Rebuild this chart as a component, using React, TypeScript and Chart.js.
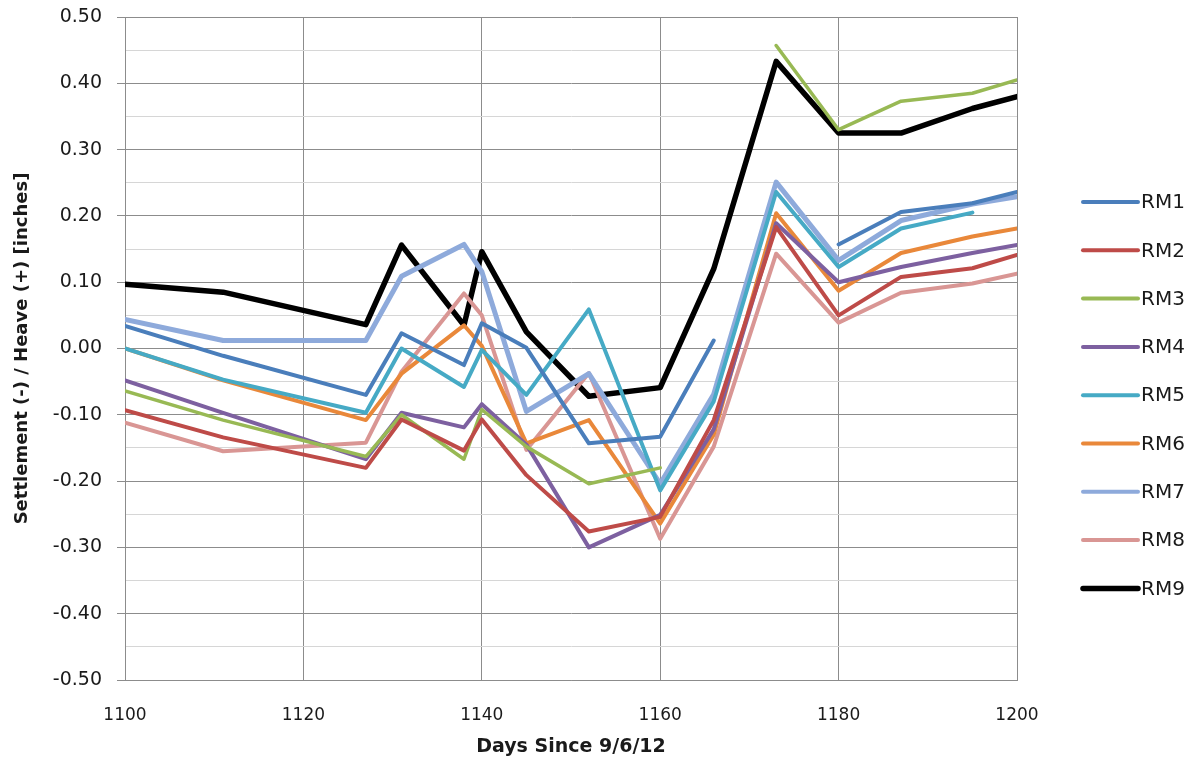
import React, { useEffect, useRef } from "react";
import { Chart, registerables } from "chart.js";

Chart.register(...registerables);

// ---- data ----
const days = [1100, 1111, 1127, 1131, 1138, 1140, 1145, 1152, 1160, 1166, 1173, 1180, 1187, 1195, 1200];

const rm1 = [0.034, -0.011, -0.07, 0.023, -0.025, 0.038, 0.001, -0.143, -0.133, 0.012, null, 0.157, 0.206, 0.219, 0.236];
const rm2 = [-0.093, -0.134, -0.18, -0.107, -0.154, -0.107, -0.191, -0.276, -0.254, -0.108, 0.183, 0.05, 0.108, 0.121, 0.141];
const rm3 = [-0.064, -0.108, -0.163, -0.1, -0.167, -0.092, -0.148, -0.204, -0.18, null, 0.457, 0.33, 0.373, 0.385, 0.405];
const rm4 = [-0.048, -0.097, -0.167, -0.097, -0.119, -0.084, -0.145, -0.3, -0.251, -0.122, 0.189, 0.1, 0.123, 0.144, 0.156];
const rm5 = [0.0, -0.047, -0.097, 0.0, -0.058, -0.002, -0.07, 0.059, -0.214, -0.08, 0.236, 0.123, 0.181, 0.205, null];
const rm6 = [0.0, -0.048, -0.108, -0.038, 0.035, 0.004, -0.143, -0.108, -0.264, -0.13, 0.204, 0.087, 0.144, 0.169, 0.181];
const rm7 = [0.044, 0.012, 0.012, 0.109, 0.157, 0.116, -0.095, -0.038, -0.204, -0.069, 0.251, 0.133, 0.193, 0.218, 0.229];
const rm8 = [-0.112, -0.155, -0.142, -0.035, 0.083, 0.05, -0.153, -0.037, -0.287, -0.148, 0.143, 0.039, 0.084, 0.098, 0.113];
const rm9 = [0.097, 0.085, 0.036, 0.156, 0.035, 0.146, 0.025, -0.072, -0.059, 0.12, 0.433, 0.325, 0.325, 0.362, 0.38];

const seriesNames = ["RM1", "RM2", "RM3", "RM4", "RM5", "RM6", "RM7", "RM8", "RM9"];
const seriesValues = [rm1, rm2, rm3, rm4, rm5, rm6, rm7, rm8, rm9];
const seriesColors = ["#4A7EBB", "#BE4B48", "#98B954", "#7D60A0", "#46AAC5", "#E9883A", "#8EAADB", "#D99694", "#000000"];
const seriesWidths = [4, 4, 3.5, 4, 4, 4, 5, 4, 5.5];

const xMin = 1100;
const xMax = 1200;
const xStep = 20;
const yMin = -0.5;
const yMax = 0.5;
const yStep = 0.05;

const xTitle = "Days Since 9/6/12";
const yTitle = "Settlement (-) / Heave (+) [inches]";

const isMajor = (v: number) => Math.round(v * 20) % 2 === 0;

const legendPlugin = {
  id: "rightLegend",
  afterDraw(chart: any) {
    const { ctx, chartArea } = chart;
    ctx.save();
    chart.data.datasets.forEach((ds: any, i: number) => {
      const y = chartArea.top + 185 + i * 48.3;
      const x0 = chartArea.right + 66;
      ctx.strokeStyle = ds.borderColor;
      ctx.lineWidth = ds.label === "RM9" ? 5.5 : 4;
      ctx.lineCap = "round";
      ctx.beginPath();
      ctx.moveTo(x0, y);
      ctx.lineTo(x0 + 55, y);
      ctx.stroke();
      ctx.fillStyle = "#1a1a1a";
      ctx.font = '20px "DejaVu Sans"';
      ctx.textBaseline = "middle";
      ctx.textAlign = "left";
      ctx.fillText(ds.label, x0 + 58, y + 1);
    });
    ctx.restore();
  },
};

export default function App() {
  const ref = useRef<HTMLCanvasElement>(null);

  useEffect(() => {
    if (!ref.current) return;
    const datasets = seriesNames.map((name, i) => ({
      label: name,
      data: days.map((d, j) => ({ x: d, y: seriesValues[i][j] })),
      borderColor: seriesColors[i],
      backgroundColor: seriesColors[i],
      borderWidth: seriesWidths[i],
      pointRadius: 0,
      pointHoverRadius: 0,
      tension: 0,
      spanGaps: false,
      borderJoinStyle: "round" as const,
      borderCapStyle: "round" as const,
    }));

    const chart = new Chart(ref.current, {
      type: "line",
      data: { datasets },
      plugins: [legendPlugin],
      options: {
        responsive: false,
        animation: false,
        layout: { padding: { top: 9, right: 177, left: 0, bottom: 0 } },
        plugins: {
          legend: { display: false },
          tooltip: { enabled: false },
        },
        scales: {
          x: {
            type: "linear",
            min: xMin,
            max: xMax,
            ticks: {
              stepSize: xStep,
              color: "#1a1a1a",
              font: { family: "DejaVu Sans", size: 17 },
              padding: 25,
              maxRotation: 0,
              callback: (v: any) => String(v),
            },
            grid: { color: "#8c8c8c", lineWidth: 1, drawTicks: false },
            border: { display: true, color: "#8c8c8c" },
            title: {
              display: true,
              text: xTitle,
              color: "#1a1a1a",
              font: { family: "DejaVu Sans", size: 19, weight: "bold" },
              padding: { top: 0, bottom: 8 },
            },
            afterFit: (s: any) => {
              s.height = 86;
            },
          },
          y: {
            type: "linear",
            min: yMin,
            max: yMax,
            ticks: {
              stepSize: yStep,
              autoSkip: false,
              color: "#1a1a1a",
              font: { family: "DejaVu Sans", size: 19 },
              padding: 15,
              callback: (v: any) => (isMajor(Number(v)) ? Number(v).toFixed(2) : ""),
            },
            grid: {
              color: (c: any) => (isMajor(c.tick.value) ? "#8c8c8c" : "#d6d6d6"),
              tickColor: (c: any) => (isMajor(c.tick.value) ? "#8c8c8c" : "rgba(0,0,0,0)"),
              tickLength: 8,
              lineWidth: 1,
            },
            border: { display: true, color: "#8c8c8c" },
            title: {
              display: true,
              text: yTitle,
              color: "#1a1a1a",
              font: { family: "DejaVu Sans", size: 18, weight: "bold" },
              padding: { top: 4, bottom: 0 },
            },
            afterFit: (s: any) => {
              s.width = 117;
              s.paddingTop = 0;
              s.paddingBottom = 0;
            },
          },
        },
      },
    });
    return () => chart.destroy();
  }, []);

  return (
    <div style={{ width: 1186, height: 758 }}>
      <canvas ref={ref} width={1186} height={758} style={{ display: "block" }} />
    </div>
  );
}
